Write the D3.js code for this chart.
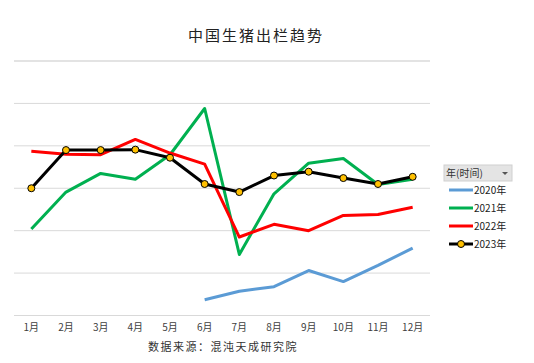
<!DOCTYPE html>
<html>
<head>
<meta charset="utf-8">
<script src="https://cdn.jsdelivr.net/npm/d3@7"></script>
<style>
body { margin: 0; background: #fff; }
text { font-family: "Noto Sans CJK SC", "Noto Sans", sans-serif; }
</style>
</head>
<body>
<div id="chart"></div>
<script>
var months = ["1月","2月","3月","4月","5月","6月","7月","8月","9月","10月","11月","12月"];
var years = ["2020年","2021年","2022年","2023年"];
var colors = ["#5B9BD5","#00B050","#FF0000","#000000"];
// values (no y axis shown, relative units)
var y2020 = [null,null,null,null,null,0.37,0.57,0.68,1.06,0.80,1.18,1.59];
var y2021 = [2.04,2.91,3.35,3.21,3.79,4.88,1.44,2.87,3.59,3.70,3.09,3.21];
var y2022 = [3.87,3.80,3.79,4.15,3.83,3.57,1.85,2.15,2.00,2.36,2.38,2.55];
var y2023 = [3.00,3.90,3.90,3.91,3.72,3.10,2.91,3.30,3.39,3.24,3.10,3.27];
var gridTicks = [0,1,2,3,4,5,6];

var series = [y2020, y2021, y2022, y2023];

var svg = d3.select("#chart").append("svg")
	.attr("width", 534)
	.attr("height", 363);

var x = d3.scaleBand()
	.domain(months)
	.range([14, 430]);
var y = d3.scaleLinear()
	.domain([0, 6])
	.range([315.5, 61]);

// gridlines
svg.append("g")
	.selectAll("line")
	.data(gridTicks)
	.enter().append("line")
	.attr("x1", 14).attr("x2", 430)
	.attr("y1", function(d) { return y(d); })
	.attr("y2", function(d) { return y(d); })
	.attr("stroke", function(d) { return d == 6 ? "#e3e3e3" : "#d9d9d9"; })
	.attr("stroke-width", function(d) { return d == 6 ? 2 : 1; });

// month labels
svg.append("g")
	.attr("transform", "translate(0,315)")
	.call(d3.axisBottom(x).tickSize(0).tickPadding(9))
	.call(function(g) { g.select(".domain").remove(); })
	.selectAll("text")
	.attr("font-size", 10)
	.attr("fill", "#404040")
	.style("font-family", "'Noto Sans CJK SC', sans-serif");

var line = d3.line()
	.defined(function(d) { return d != null; })
	.x(function(d, i) { return x(months[i]) + x.bandwidth() / 2; })
	.y(function(d) { return y(d); });

series.forEach(function(s, k) {
	svg.append("path")
		.datum(s)
		.attr("fill", "none")
		.attr("stroke", colors[k])
		.attr("stroke-width", 3)
		.attr("stroke-linejoin", "round")
		.attr("d", line);
});

svg.append("g")
	.selectAll("circle")
	.data(y2023)
	.enter().append("circle")
	.attr("cx", function(d, i) { return x(months[i]) + x.bandwidth() / 2; })
	.attr("cy", function(d) { return y(d); })
	.attr("r", 3.5)
	.attr("fill", "#FFC000")
	.attr("stroke", "#000")
	.attr("stroke-width", 1);

// title
svg.append("text")
	.attr("x", 256).attr("y", 41)
	.attr("text-anchor", "middle")
	.attr("font-size", 15)
	.attr("letter-spacing", 2)
	.attr("fill", "#222")
	.text("中国生猪出栏趋势");

// source
svg.append("text")
	.attr("x", 223).attr("y", 351)
	.attr("text-anchor", "middle")
	.attr("font-size", 11)
	.attr("letter-spacing", 1.5)
	.attr("fill", "#333")
	.text("数据来源：混沌天成研究院");

// legend
var lg = svg.append("g");
lg.append("rect")
	.attr("x", 444).attr("y", 165)
	.attr("width", 68).attr("height", 16)
	.attr("fill", "#e4e4e4")
	.attr("stroke", "#d0d0d0");
lg.append("text")
	.attr("x", 446).attr("y", 177)
	.attr("font-size", 10)
	.attr("fill", "#333")
	.text("年(时间)");
lg.append("path")
	.attr("d", "M502,172 L508,172 L505,175 Z")
	.attr("fill", "#555");

var items = lg.selectAll("g.item")
	.data(years)
	.enter().append("g")
	.attr("class", "item")
	.attr("transform", function(d, i) { return "translate(0," + (190 + i * 18) + ")"; });
items.append("line")
	.attr("x1", 449).attr("x2", 473)
	.attr("stroke", function(d, i) { return colors[i]; })
	.attr("stroke-width", 3);
items.filter(function(d, i) { return i == 3; })
	.append("circle")
	.attr("cx", 461).attr("r", 3.5)
	.attr("fill", "#FFC000").attr("stroke", "#000");
items.append("text")
	.attr("x", 474).attr("y", 4)
	.attr("font-size", 10)
	.attr("fill", "#222")
	.text(function(d) { return d; });
</script>
</body>
</html>
